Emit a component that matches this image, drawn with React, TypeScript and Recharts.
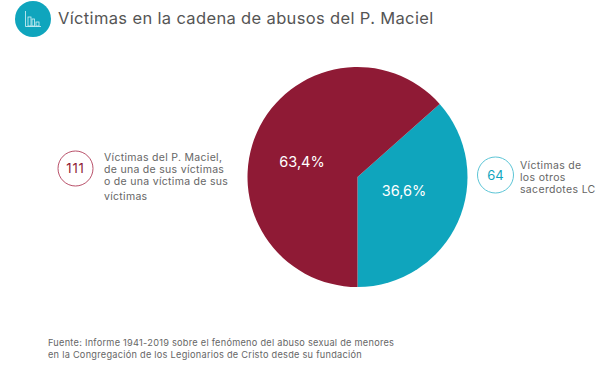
import React from "react";
import { PieChart, Pie, Cell } from "recharts";

const categories = ["Víctimas de los otros sacerdotes LC", "Víctimas del P. Maciel, de una de sus víctimas o de una víctima de sus víctimas"];
const values = [64, 111];
const percentLabels = ["36,6%", "63,4%"];
const colors = ["#0fa5bd", "#8f1a35"];
const title = "Víctimas en la cadena de abusos del P. Maciel";
const leftLines = ["Víctimas del P. Maciel,", "de una de sus víctimas", "o de una víctima de sus", "víctimas"];
const rightLines = ["Víctimas de", "los otros", "sacerdotes LC"];
const sourceLines = [
  "Fuente: Informe 1941-2019 sobre el fenómeno del abuso sexual de menores",
  "en la Congregación de los Legionarios de Cristo desde su fundación",
];
const data = categories.map((name, i) => ({ name, value: values[i] }));

const FONT = "Inter, 'Open Sans', sans-serif";
const labelPos = [
  { x: 404, y: 196 },
  { x: 302, y: 167 },
];

const renderLabel = (p: any) => (
  <text x={labelPos[p.index].x} y={labelPos[p.index].y} textAnchor="middle" fill="#fff" fontSize={14.5} fontFamily={FONT}>
    {percentLabels[p.index]}
  </text>
);

export default function App() {
  return (
    <div style={{ position: "absolute", left: 0, top: 0, width: 610, height: 383, background: "#fff", overflow: "hidden" }}>
      <div style={{ position: "absolute", left: 0, top: 0 }}>
        <PieChart width={610} height={383} margin={{ top: 0, right: 0, bottom: 0, left: 0 }}>
          <Pie
            data={data}
            dataKey="value"
            cx={357.5}
            cy={177}
            outerRadius={110}
            innerRadius={0}
            startAngle={41.66}
            endAngle={-318.34}
            stroke="none"
            isAnimationActive={false}
            label={renderLabel}
            labelLine={false}
          >
            {data.map((d, i) => (
              <Cell key={d.name} fill={colors[i]} />
            ))}
          </Pie>
        </PieChart>
      </div>
      <svg width={610} height={383} style={{ position: "absolute", left: 0, top: 0, pointerEvents: "none" }} fontFamily={FONT}>
        <circle cx={33} cy={19} r={18} fill="#0fa5bd" />
        <g stroke="#d8f3f7" strokeWidth={0.8} fill="none">
          <path d="M25.5 11 V26.5 H41" />
          <rect x={28} y={17} width={3} height={9} />
          <rect x={32} y={19} width={2.5} height={7} />
          <rect x={36} y={22} width={3} height={4} />
        </g>
        <text x={58} y={24} fontSize={16.5} fill="#555" letterSpacing={0.35}>{title}</text>

        <circle cx={75.5} cy={168.5} r={17.5} fill="#fff" stroke="#b9516a" strokeWidth={1} />
        <text x={75.5} y={173} textAnchor="middle" fontSize={13} fill="#8f1a35" letterSpacing={0.8}>{String(values[1])}</text>
        {leftLines.map((l, i) => (
          <text key={l} x={104} y={[161, 173, 185, 199.5][i]} fontSize={10.5} fill="#666" letterSpacing={0.3}>{l}</text>
        ))}

        <circle cx={495.5} cy={175} r={18} fill="#fff" stroke="#5cc5d6" strokeWidth={1} />
        <text x={495.5} y={179.5} textAnchor="middle" fontSize={13} fill="#0fa5bd">{String(values[0])}</text>
        {rightLines.map((l, i) => (
          <text key={l} x={520} y={169 + i * 12.2} fontSize={10.5} fill="#666" letterSpacing={0.33}>{l}</text>
        ))}

        {sourceLines.map((l, i) => (
          <text key={l} x={48} y={346 + i * 11.5} fontSize={9.2} fill="#666" letterSpacing={0.26}>{l}</text>
        ))}
      </svg>
    </div>
  );
}
